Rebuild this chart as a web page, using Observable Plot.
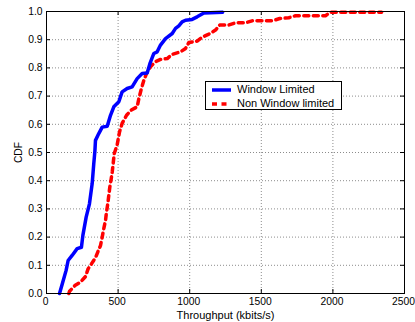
<!DOCTYPE html>
<html><head><meta charset="utf-8">
<script src="https://cdn.jsdelivr.net/npm/d3@7"></script>
<script src="https://cdn.jsdelivr.net/npm/@observablehq/plot@0.6"></script>
<style>
body{margin:0;background:#fff;}
#wrap{position:relative;width:415px;height:322px;font-family:"Liberation Sans",Arial,sans-serif;}
#legend{position:absolute;left:205px;top:81px;width:135px;height:27px;border:1px solid #000;background:#fff;font-size:11px;line-height:13px;}
#legend .row{display:flex;align-items:center;height:13px;margin-top:1px;}
#legend svg{margin-left:6px;margin-right:6px;}
</style></head>
<body><div id="wrap"><div id="legend"></div></div>
<script>
const seriesNames = ["Window Limited", "Non Window limited"];
const blueX = [91,110,137,151,179,214,244,254,277,300,319,330,338,342,365,389,424,447,470,505,528,563,598,633,668,703,722,749,773,796,831,878,901,924,947,971,1017,1052,1099,1230];
const blueY = [0,0.034,0.082,0.117,0.135,0.159,0.164,0.206,0.271,0.318,0.39,0.46,0.505,0.543,0.567,0.59,0.593,0.632,0.662,0.68,0.715,0.727,0.733,0.762,0.78,0.782,0.815,0.851,0.857,0.881,0.904,0.922,0.94,0.949,0.963,0.969,0.972,0.981,0.995,0.997];
const redX = [156,161,198,237,272,291,314,342,358,377,389,400,412,419,428,435,442,452,459,466,473,493,510,528,559,591,633,645,663,680,698,726,761,796,843,878,936,971,994,1052,1087,1134,1180,1210,1273,1320,1390,1436,1576,1629,1692,1739,1948,1983,2340];
const redY = [0,0.008,0.028,0.04,0.06,0.088,0.105,0.127,0.147,0.17,0.2,0.23,0.259,0.289,0.318,0.348,0.377,0.407,0.431,0.463,0.496,0.526,0.573,0.603,0.632,0.65,0.662,0.691,0.727,0.756,0.78,0.804,0.822,0.83,0.833,0.848,0.857,0.869,0.89,0.895,0.909,0.92,0.934,0.952,0.952,0.96,0.96,0.967,0.967,0.975,0.978,0.985,0.985,0.997,0.997];
const xTicks = [0,500,1000,1500,2000,2500];
const yTicks = [0,0.1,0.2,0.3,0.4,0.5,0.6,0.7,0.8,0.9,1];

const blue = blueX.map((x,i)=>({x, y: blueY[i]}));
const red = redX.map((x,i)=>({x, y: redY[i]}));

const W=415,H=322,mL=46,mR=11,mT=11,mB=29;
const pw=W-mL-mR, ph=H-mT-mB, tk=4;

const chart = Plot.plot({
  width: W, height: H,
  marginLeft: mL, marginRight: mR, marginTop: mT, marginBottom: mB,
  style: {fontFamily: '"Liberation Sans", Arial, sans-serif', fontSize: "11px", background: "#fff", overflow: "visible", color: "#000"},
  x: {domain: [0,2500]},
  y: {domain: [0,1]},
  marks: [
    Plot.gridX(xTicks.slice(1,-1), {stroke: "#000", strokeOpacity: 0.45, strokeDasharray: "1,2"}),
    Plot.gridY(yTicks.slice(1,-1), {stroke: "#000", strokeOpacity: 0.45, strokeDasharray: "1,2"}),
    Plot.tickX(xTicks, {x: d=>d, insetTop: ph-tk, stroke: "#000"}),
    Plot.tickX(xTicks, {x: d=>d, insetBottom: ph-tk, stroke: "#000"}),
    Plot.tickY(yTicks, {y: d=>d, insetRight: pw-tk, stroke: "#000"}),
    Plot.tickY(yTicks, {y: d=>d, insetLeft: pw-tk, stroke: "#000"}),
    Plot.line(red, {x: "x", y: "y", stroke: "#ff0000", strokeWidth: 3.5, strokeDasharray: "5,4.5"}),
    Plot.line(blue, {x: "x", y: "y", stroke: "#0000ff", strokeWidth: 3.5}),
    Plot.frame({stroke: "#000"}),
    Plot.axisX(xTicks, {tickSize: 0, tickPadding: 4, tickFormat: d3.format("d"), fontSize: 10.3, dx: -1, label: null}),
    Plot.axisX({ticks: [], tickSize: 0, label: "Throughput (kbits/s)", labelAnchor: "center", labelArrow: false, labelOffset: 25, fontSize: 11}),
    Plot.axisY(yTicks, {tickSize: 0, tickPadding: 4, fontSize: 10.3, label: "CDF", labelAnchor: "center", labelArrow: false, labelOffset: 32})
  ]
});
const wrap = document.getElementById("wrap");
wrap.insertBefore(chart, wrap.firstChild);

const lg = document.getElementById("legend");
const styles = [{c:"#0000ff", d:""},{c:"#ff0000", d:"5,4.5"}];
seriesNames.forEach((n,i)=>{
  const row = document.createElement("div"); row.className="row";
  row.innerHTML = `<svg width="19" height="6"><line x1="0" x2="19" y1="3" y2="3" stroke="${styles[i].c}" stroke-width="3.5" stroke-dasharray="${styles[i].d}"/></svg><span>${n}</span>`;
  lg.appendChild(row);
});
</script></body></html>
